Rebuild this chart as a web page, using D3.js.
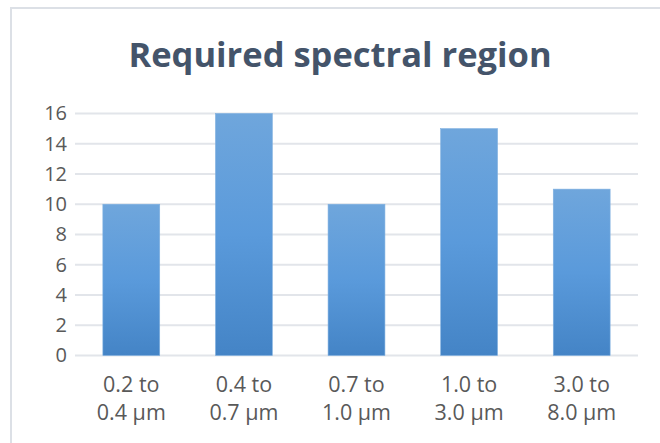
<!DOCTYPE html>
<html><head><meta charset="utf-8">
<script src="https://cdn.jsdelivr.net/npm/d3@7"></script>
<style>body{margin:0;background:#fff;}svg{display:block;}</style>
</head><body><svg id="c" width="660" height="443"></svg>
<script>
const categories = [["0.2 to","0.4 µm"],["0.4 to","0.7 µm"],["0.7 to","1.0 µm"],["1.0 to","3.0 µm"],["3.0 to","8.0 µm"]];
const values = [10,16,10,15,11];
const yTicks = [0,2,4,6,8,10,12,14,16];
const title = "Required spectral region";

(function(){
const svg = d3.select("#c");
svg.append("rect").attr("x",11).attr("y",8).attr("width",700).attr("height",500)
  .attr("fill","#fff").attr("stroke","#DCE0E6").attr("stroke-width",2);

const pl=75,pr=638,pt=113.5,pb=355.5;
const x = d3.scaleBand().domain(d3.range(values.length)).range([pl,pr]).paddingInner(0.495).paddingOuter(0.2475);
const y = d3.scaleLinear().domain([0,16]).range([pb,pt]);

const defs=svg.append("defs");
const g=defs.append("linearGradient").attr("id","bg").attr("x1",0).attr("y1",0).attr("x2",0).attr("y2",1);
g.append("stop").attr("offset","0%").attr("stop-color","#6FA6DC");
g.append("stop").attr("offset","50%").attr("stop-color","#5A9ADB");
g.append("stop").attr("offset","100%").attr("stop-color","#4484C6");

svg.append("g").selectAll("line").data(yTicks).join("line")
  .attr("x1",pl).attr("x2",pr).attr("y1",d=>y(d)).attr("y2",d=>y(d))
  .attr("stroke","#E2E5EA").attr("stroke-width",2);

const ya = svg.append("g").attr("transform",`translate(${pl},0)`)
  .call(d3.axisLeft(y).tickValues(yTicks).tickSize(0).tickPadding(8));
ya.select(".domain").remove();
ya.selectAll("text").attr("font-family","Open Sans, sans-serif").attr("font-size",20).attr("fill","#595959");

svg.append("g").selectAll("rect").data(values).join("rect")
  .attr("x",(d,i)=>x(i)).attr("width",x.bandwidth())
  .attr("y",d=>y(d)).attr("height",d=>y(0)-y(d))
  .attr("fill","url(#bg)").attr("stroke","#7FB0E0").attr("stroke-width",0.6);

const xa = svg.append("g").selectAll("text").data(categories).join("text")
  .attr("x",(d,i)=>x(i)+x.bandwidth()/2).attr("y",392)
  .attr("text-anchor","middle").attr("font-family","Open Sans, sans-serif").attr("font-size",21.5).attr("fill","#595959");
xa.selectAll("tspan").data(d=>d).join("tspan")
  .attr("x",function(){return this.parentNode.getAttribute("x");})
  .attr("dy",(d,i)=>i?28:0).text(d=>d);

svg.append("text").attr("x",340).attr("y",67).attr("text-anchor","middle")
  .attr("font-family","Open Sans, sans-serif").attr("font-weight","bold").attr("font-size",34.5)
  .attr("fill","#44546A").text(title);
})();
</script></body></html>
